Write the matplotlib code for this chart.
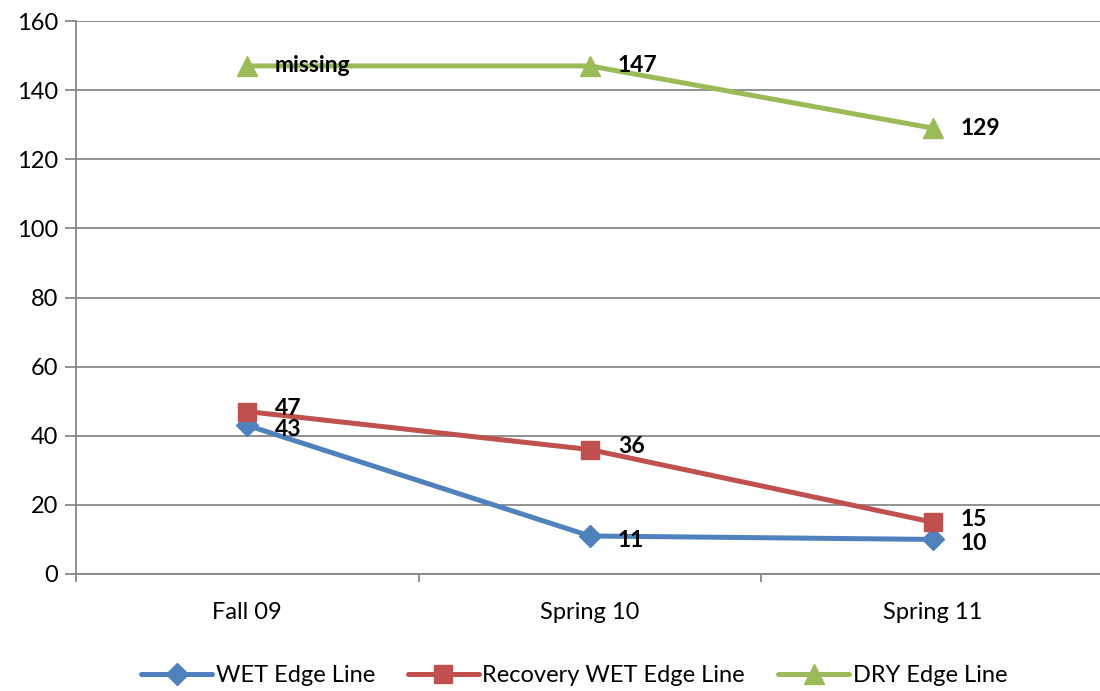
import numpy as np
import matplotlib.pyplot as plt

plt.rcParams['font.family'] = ['Lato', 'DejaVu Sans']

# 数据
categories = ['Fall 09', 'Spring 10', 'Spring 11']
wet = [43, 11, 10]
recovery = [47, 36, 15]
dry = [147, 147, 129]
dry_labels = ['missing', '147', '129']

series = [
    ('WET Edge Line', wet, [str(v) for v in wet], '#4F81BD', 'D', 11, -3),
    ('Recovery WET Edge Line', recovery, [str(v) for v in recovery], '#C0504D', 's', 13, 2),
    ('DRY Edge Line', dry, dry_labels, '#9BBB59', '^', 14, 0),
]

fig = plt.figure(figsize=(11, 6.91), dpi=100)
ax = fig.add_axes([76 / 1100, 1 - 574 / 691, 1028 / 1100, 553 / 691])

x = np.arange(len(categories))
for name, vals, labels, color, marker, ms, dy in series:
    ax.plot(x, vals, color=color, lw=3.6, marker=marker, ms=ms, label=name,
            solid_capstyle='round')
    # 数据标签放在点的右侧
    for xi, yi, lab in zip(x, vals, labels):
        ax.annotate(lab, (xi, yi), xytext=(20, dy), textcoords='offset points',
                    va='center', ha='left', fontsize=16.5, fontweight='bold', color='black')

ax.set_xlim(-0.5, 2.5)
ax.set_ylim(0, 160)
ax.set_yticks(np.arange(0, 161, 20))
ax.yaxis.grid(True, color='#888888', lw=1.3)
ax.set_axisbelow(True)

ax.set_xticks([-0.5, 0.5, 1.5, 2.5])
ax.set_xticklabels([])
ax.set_xticks(x, minor=True)
ax.set_xticklabels(categories, minor=True)
ax.tick_params(axis='x', which='minor', length=0, pad=20, labelsize=17)
ax.tick_params(axis='x', which='major', length=6, color='#888888', width=1.3)
ax.tick_params(axis='y', length=8, color='#888888', width=1.3, labelsize=17, pad=5)

for s in ['top', 'right']:
    ax.spines[s].set_visible(False)
for s in ['left', 'bottom']:
    ax.spines[s].set_color('#888888')
    ax.spines[s].set_linewidth(1.3)

fig.legend(loc='center', bbox_to_anchor=(0.522, 1 - 676 / 691), ncol=3, frameon=False,
           fontsize=17, handlelength=3.0, columnspacing=1.4, handletextpad=0.15)

fig.savefig('out.png', dpi=100)
